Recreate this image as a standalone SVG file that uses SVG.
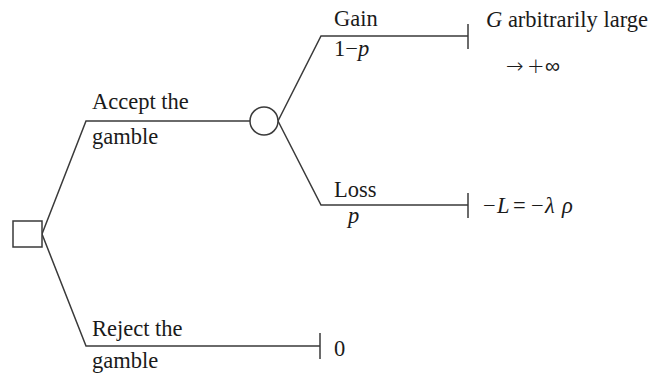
<svg xmlns="http://www.w3.org/2000/svg" width="655" height="376" viewBox="0 0 655 376">
<style>
.ln{fill:none;stroke:#3a3a3a;stroke-width:1.5}
.nd{fill:#fff;stroke:#3a3a3a;stroke-width:1.5}
text{font-family:"Liberation Serif","Times New Roman",serif;font-size:22.5px;fill:#1a1a1a}
.i{font-style:italic}
.m{font-family:"DejaVu Sans",sans-serif;font-size:21px;font-weight:300}
</style>
<rect width="655" height="376" fill="#fff"/>
<g id="connectors">
<polyline class="ln" points="42,234 86,121 250,121"/>
<polyline class="ln" points="278,121 321,36 468,36"/>
<line class="ln" x1="468" y1="24" x2="468" y2="49"/>
<polyline class="ln" points="278,121 321,205 468,205"/>
<line class="ln" x1="468" y1="193" x2="468" y2="218"/>
<polyline class="ln" points="42,234 86,346 320,346"/>
<line class="ln" x1="320" y1="333" x2="320" y2="359"/>
</g>
<g id="decision"><rect class="nd" x="13" y="221" width="29" height="26"/></g>
<g id="chance"><circle class="nd" cx="264" cy="121" r="14"/></g>
<g id="labels">
<text x="92" y="109">Accept the</text>
<text x="92" y="144">gamble</text>
<text x="334" y="26">Gain</text>
<text x="334" y="56">1−<tspan class="i">p</tspan></text>
<text x="334" y="197">Loss</text>
<text x="348" y="223" class="i">p</text>
<text x="92" y="336">Reject the</text>
<text x="92" y="368">gamble</text>
</g>
<g id="outcome-gain"><text x="486" y="27"><tspan class="i">G</tspan> arbitrarily large</text>
<text class="m" y="73"><tspan x="506">→</tspan><tspan x="527">+</tspan><tspan x="545">∞</tspan></text></g>
<g id="outcome-loss"><text y="213"><tspan x="483">−</tspan><tspan x="497" class="i">L</tspan><tspan x="513">=</tspan><tspan x="531">−</tspan><tspan x="545" class="i">λ</tspan><tspan x="562" class="i">ρ</tspan></text></g>
<g id="outcome-reject"><text x="334" y="356">0</text></g>
</svg>
